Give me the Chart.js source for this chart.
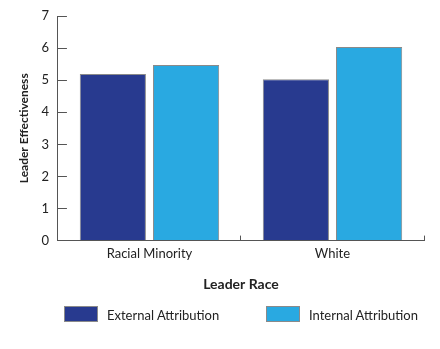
<!DOCTYPE html>
<html>
<head>
<meta charset="utf-8">
<script src="https://cdn.jsdelivr.net/npm/chart.js@4/dist/chart.umd.min.js"></script>
<style>
  html, body { margin: 0; padding: 0; background: #fff; }
  #wrap { position: relative; width: 440px; height: 349px; }
  .legend-item { position: absolute; top: 306px; height: 17px; font: 13px Lato, sans-serif; color: #222; }
  .legend-item span.box { position: absolute; left: 0; top: 0; width: 34px; height: 16px; border: 1px solid #8a8a8a; box-sizing: border-box; }
  .legend-item span.txt { position: absolute; left: 43px; top: 1px; white-space: nowrap; line-height: 17px; }
</style>
</head>
<body>
<div id="wrap">
  <canvas id="myChart" width="440" height="349"></canvas>
  <div id="legend"></div>
</div>
<script>
// data
const categories = ['Racial Minority', 'White']
const seriesNames = ['External Attribution', 'Internal Attribution']
const externalValues = [5.19, 5.03]
const internalValues = [5.47, 6.03]
const yTicks = [0, 1, 2, 3, 4, 5, 6, 7]

const darkBlue = '#283a8f'
const lightBlue = '#29a9e1'
const axisGrey = '#555555'

Chart.defaults.font.family = 'Lato, "Open Sans", sans-serif'
Chart.defaults.color = '#222'

const ctx = document.getElementById('myChart').getContext('2d')
const myChart = new Chart(ctx, {
  type: 'bar',
  data: {
    labels: categories,
    datasets: [
      {
        label: seriesNames[0],
        data: externalValues,
        backgroundColor: darkBlue,
        borderColor: '#8a8a8a',
        borderWidth: 1,
      },
      {
        label: seriesNames[1],
        data: internalValues,
        backgroundColor: lightBlue,
        borderColor: '#8a8a8a',
        borderWidth: 1,
      },
    ],
  },
  options: {
    responsive: false,
    animation: false,
    layout: { padding: { top: 0, right: 16, left: 17, bottom: 52 } },
    categoryPercentage: 0.8,
    barPercentage: 0.904,
    scales: {
      x: {
        border: { color: axisGrey, width: 1 },
        // negative tick length -> tick marks point into the plot
        grid: { drawOnChartArea: false, drawTicks: true, tickLength: -5, color: axisGrey },
        ticks: { padding: 10, font: { size: 13 }, color: '#222' },
        title: {
          display: true,
          text: 'Leader Race',
          font: { size: 14, weight: 'bold' },
          color: '#222',
          padding: { top: 5, bottom: 4 },
        },
      },
      y: {
        min: 0,
        max: 7,
        afterBuildTicks: (axis) => {
          axis.ticks = yTicks.map((v) => ({ value: v }))
        },
        // tick padding also gets added above the top label, take it back out
        afterFit: (axis) => {
          axis.paddingTop = 16
        },
        border: { color: axisGrey, width: 1 },
        grid: { drawOnChartArea: false, drawTicks: true, tickLength: -9, color: axisGrey },
        ticks: { padding: 18, autoSkip: false, font: { size: 13 }, color: '#222' },
        title: {
          display: true,
          text: 'Leader Effectiveness',
          font: { size: 12, weight: 'bold' },
          color: '#222',
          padding: { top: 0, bottom: -8 },
        },
      },
    },
    plugins: {
      tooltip: { enabled: false },
      legend: { display: false },
    },
  },
})

// html legend, placed under the axis title like the reference
const legendLeft = [64, 266]
const legendColors = [darkBlue, lightBlue]
const legendEl = document.getElementById('legend')
seriesNames.forEach((name, i) => {
  const item = document.createElement('div')
  item.className = 'legend-item'
  item.style.left = legendLeft[i] + 'px'
  item.innerHTML = '<span class="box" style="background:' + legendColors[i] + '"></span><span class="txt">' + name + '</span>'
  legendEl.appendChild(item)
})
</script>
</body>
</html>
